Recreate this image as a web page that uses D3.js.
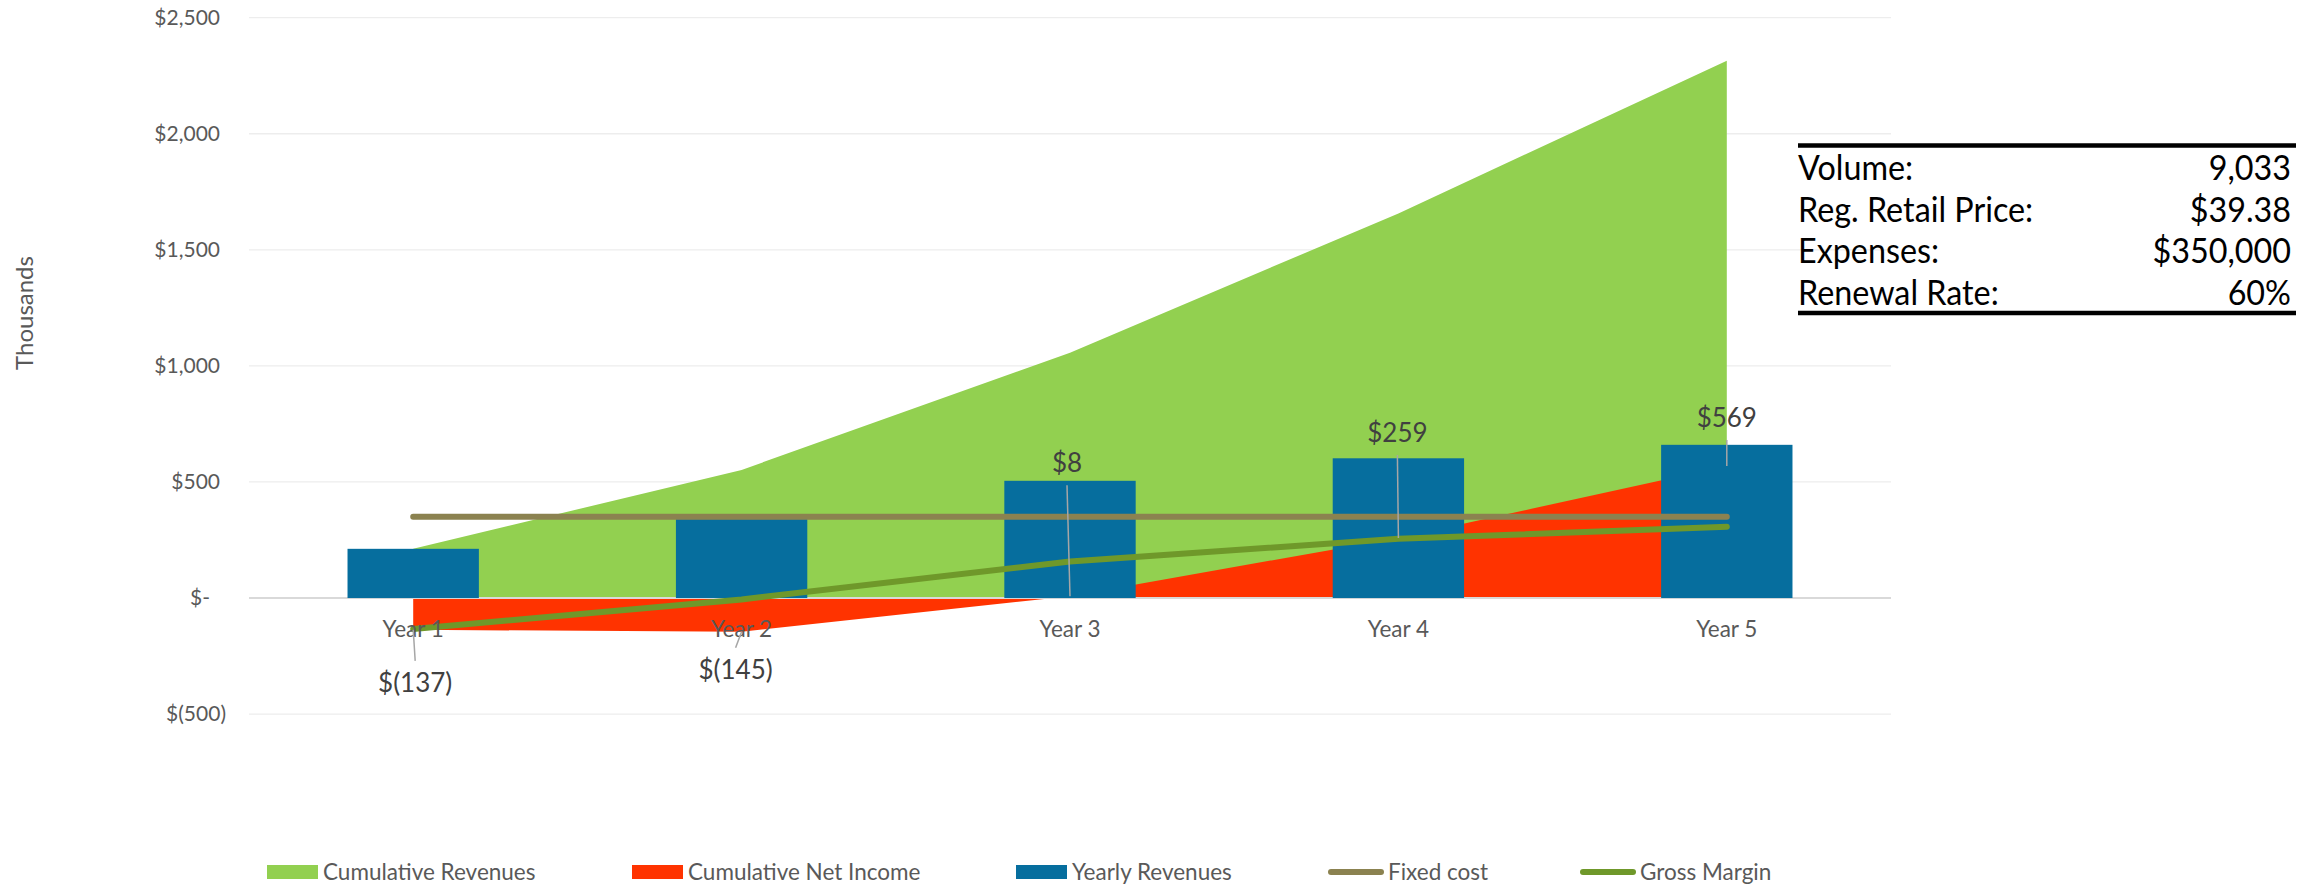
<!DOCTYPE html>
<html><head><meta charset="utf-8">
<script src="https://cdn.jsdelivr.net/npm/d3@7"></script>
<style>html,body{margin:0;padding:0;background:#fff;} svg{display:block}</style>
</head><body><svg id="c" width="2315" height="885"></svg>
<script>
// ---- data ----
const categories = ["Year 1", "Year 2", "Year 3", "Year 4", "Year 5"];
const yearlyRevenues = [212, 340, 505, 602, 660];
const cumulativeRevenues = [212, 552, 1057, 1657, 2315];
const cumulativeNetIncome = [-137, -145, 8, 259, 569];
const fixedCost = [350, 350, 350, 350, 350];
const grossMargin = [-133, -6, 157, 255, 307];
const yTicks = [-500, 0, 500, 1000, 1500, 2000, 2500];
const seriesNames = ["Cumulative Revenues", "Cumulative Net Income", "Yearly Revenues", "Fixed cost", "Gross Margin"];
const tableLabels = ["Volume:", "Reg. Retail Price:", "Expenses:", "Renewal Rate:"];
const tableValues = ["9,033", "$39.38", "$350,000", "60%"];

// ---- styles ----
const C = {green:"#92D050", red:"#FF3300", blue:"#066E9E", fixed:"#8B8250", gm:"#6F982A"};
const FONT = "Lato, 'Noto Sans', sans-serif";

const svg = d3.select("#c");
const x = d3.scaleBand().domain(categories).range([249, 1891]).paddingInner(0.6).paddingOuter(0.3);
const y = d3.scaleLinear().domain([-500, 2500]).range([714.1, 17.7]);
const cx = d => x(d) + x.bandwidth() / 2;

// gridlines
svg.append("g").selectAll("line").data(yTicks.filter(t => t !== 0)).join("line")
  .attr("x1", 249).attr("x2", 1891).attr("y1", d => y(d)).attr("y2", d => y(d))
  .attr("stroke", "#EDEDED").attr("stroke-width", 1.3);

// y axis labels
const fmt = d3.format(",");
const yAxis = d3.axisLeft(y).tickValues(yTicks).tickSize(0).tickPadding(0)
  .tickFormat(v => v > 0 ? "$" + fmt(v) : v === 0 ? "$-" : "$(" + fmt(-v) + ")");
const ya = svg.append("g").attr("transform", "translate(226,0)").call(yAxis);
ya.select(".domain").remove();
ya.selectAll("text").attr("font-family", FONT).attr("font-size", 21).attr("fill", "#595959")
  .attr("dx", d => d > 0 ? -6 : d === 0 ? -16 : 0);

// Thousands
svg.append("text").attr("transform", "translate(33,313) rotate(-90)").attr("text-anchor", "middle")
  .attr("font-family", FONT).attr("font-size", 24).attr("fill", "#595959").text("Thousands");

// cumulative revenues area
const idx = d3.range(categories.length);
svg.append("path").datum(idx)
  .attr("d", d3.area().x(i => cx(categories[i])).y0(y(0)).y1(i => y(cumulativeRevenues[i])))
  .attr("fill", C.green);
// cumulative net income area
svg.append("path").datum(idx)
  .attr("d", d3.area().x(i => cx(categories[i])).y0(y(0)).y1(i => y(cumulativeNetIncome[i])))
  .attr("fill", C.red);

// zero line
svg.append("line").attr("x1", 249).attr("x2", 1891).attr("y1", y(0)).attr("y2", y(0))
  .attr("stroke", "#D9D9D9").attr("stroke-width", 2);

// bars
svg.append("g").selectAll("rect").data(idx).join("rect")
  .attr("x", i => x(categories[i])).attr("width", x.bandwidth())
  .attr("y", i => y(yearlyRevenues[i])).attr("height", i => y(0) - y(yearlyRevenues[i]))
  .attr("fill", C.blue);

// lines
const line = arr => d3.line().x(i => cx(categories[i])).y(i => y(arr[i]))(idx);
svg.append("path").attr("d", line(fixedCost)).attr("fill", "none").attr("stroke", C.fixed)
  .attr("stroke-width", 6).attr("stroke-linecap", "round").attr("stroke-linejoin", "round");
svg.append("path").attr("d", line(grossMargin)).attr("fill", "none").attr("stroke", C.gm)
  .attr("stroke-width", 6).attr("stroke-linecap", "round").attr("stroke-linejoin", "round");

// x axis labels
svg.append("g").selectAll("text").data(categories).join("text")
  .attr("x", d => cx(d)).attr("y", 637).attr("text-anchor", "middle")
  .attr("font-family", FONT).attr("font-size", 22.5).attr("fill", "#595959").text(d => d);

// data labels with leaders (layout offsets from each point)
const labelOffsets = [[2, 53], [-6, 38], [-3, -133], [-1, -105], [0, -48]];
const lab = svg.append("g");
idx.forEach(i => {
  const px = cx(categories[i]), py = y(cumulativeNetIncome[i]);
  const lx = px + labelOffsets[i][0], ly = py + labelOffsets[i][1];
  const edge = labelOffsets[i][1] > 0 ? ly - 22 : ly + 22;
  lab.append("line").attr("x1", px).attr("y1", py).attr("x2", lx).attr("y2", edge)
    .attr("stroke", "#A6A6A6").attr("stroke-width", 1.5);
  const v = cumulativeNetIncome[i];
  lab.append("text").attr("x", lx).attr("y", ly + 9).attr("text-anchor", "middle")
    .attr("font-family", FONT).attr("font-size", 26).attr("fill", "#404040")
    .text(v < 0 ? "$(" + fmt(-v) + ")" : "$" + fmt(v));
});

// legend
const legX = [267, 632, 1016, 1328, 1580];
const legColors = [C.green, C.red, C.blue, C.fixed, C.gm];
const leg = svg.append("g");
seriesNames.forEach((n, i) => {
  if (i < 3) {
    leg.append("rect").attr("x", legX[i]).attr("y", 865).attr("width", 51).attr("height", 14).attr("fill", legColors[i]);
    leg.append("text").attr("x", legX[i] + 56).attr("y", 880).attr("font-family", FONT).attr("font-size", 22.5)
      .attr("fill", "#595959").text(n);
  } else {
    leg.append("line").attr("x1", legX[i] + 3).attr("x2", legX[i] + 53).attr("y1", 872).attr("y2", 872)
      .attr("stroke", legColors[i]).attr("stroke-width", 6).attr("stroke-linecap", "round");
    leg.append("text").attr("x", legX[i] + 60).attr("y", 880).attr("font-family", FONT).attr("font-size", 22.5)
      .attr("fill", "#595959").text(n);
  }
});

// table
const tb = svg.append("g");
tb.append("line").attr("x1", 1798).attr("x2", 2296).attr("y1", 145.5).attr("y2", 145.5).attr("stroke", "#000").attr("stroke-width", 4.5);
tb.append("line").attr("x1", 1798).attr("x2", 2296).attr("y1", 313).attr("y2", 313).attr("stroke", "#000").attr("stroke-width", 4.5);
tableLabels.forEach((t, i) => {
  const by = 180 + i * 41.7;
  const a = tb.append("text").attr("x", 1798).attr("y", by).attr("font-family", FONT).attr("font-size", 34).attr("fill", "#000").text(t);
  const b = tb.append("text").attr("x", 2291).attr("y", by).attr("text-anchor", "end").attr("font-family", FONT).attr("font-size", 34).attr("fill", "#000").text(tableValues[i]);
  [a, b].forEach(s => {
    const w = s.node().getComputedTextLength();
    s.attr("textLength", w * 0.95).attr("lengthAdjust", "spacingAndGlyphs");
  });
});
</script></body></html>
